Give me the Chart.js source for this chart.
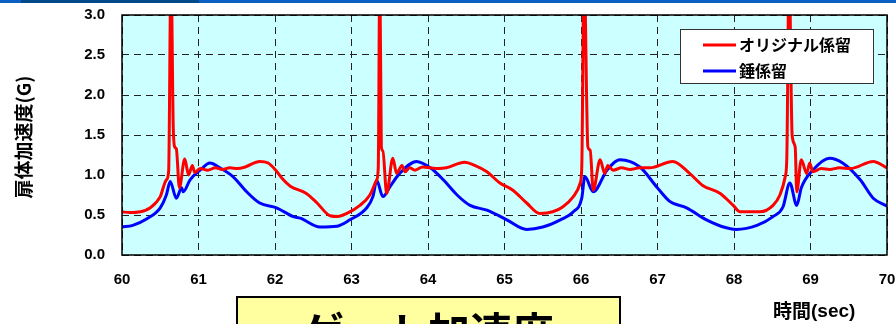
<!DOCTYPE html>
<html lang="ja">
<head>
<meta charset="UTF-8">
<title>扉体加速度</title>
<style>
  html, body { margin: 0; padding: 0; background: #fff; }
  #wrap { width: 896px; height: 324px; position: relative; }
</style>
</head>
<body>
<div id="wrap"><canvas id="myChart" width="896" height="324"></canvas></div>
<script src="https://cdn.jsdelivr.net/npm/chart.js@4/dist/chart.umd.min.js"></script>
<script>
// series names
var seriesNames = ['オリジナル係留', '錘係留'];

// オリジナル係留 (red) : time (sec) and acceleration (G)
var redT = [60.00, 60.10, 60.24, 60.37, 60.50, 60.58, 60.61, 60.64, 60.67, 60.69, 60.71, 60.75, 60.82, 60.87, 60.92, 60.95,
  61.02, 61.12, 61.22, 61.31, 61.41, 61.51, 61.61, 61.80, 61.91, 62.01, 62.10, 62.20, 62.41, 62.55, 62.72, 62.82, 62.94,
  63.11, 63.24, 63.33, 63.35, 63.37, 63.39, 63.41, 63.46, 63.54, 63.59, 63.66, 63.70, 63.76, 63.83, 63.93, 64.03, 64.14, 64.24,
  64.48, 64.61, 64.77, 64.94, 65.11, 65.29, 65.46, 65.63, 65.76, 65.90, 65.99, 66.01, 66.04, 66.09, 66.12, 66.16,
  66.25, 66.31, 66.35, 66.42, 66.53, 66.64, 66.77, 66.90, 67.20, 67.42, 67.59, 67.82, 67.99, 68.08, 68.34, 68.51, 68.60,
  68.67, 68.69, 68.72, 68.76, 68.80, 68.82, 68.88, 68.95, 68.99, 69.03, 69.14, 69.25, 69.38, 69.52, 69.82, 70.00];
var redV = [0.54, 0.53, 0.54, 0.59, 0.73, 0.94, 1.05, 3.60, 1.60, 1.35, 1.33, 0.84, 1.20, 1.00, 1.12, 1.03,
  1.08, 1.06, 1.09, 1.07, 1.09, 1.08, 1.10, 1.17, 1.15, 1.06, 0.95, 0.86, 0.77, 0.65, 0.49, 0.48, 0.52,
  0.62, 0.75, 0.94, 1.10, 3.60, 1.35, 1.30, 0.77, 1.21, 1.02, 1.12, 1.04, 1.09, 1.06, 1.10, 1.09, 1.08, 1.09,
  1.16, 1.12, 1.04, 0.90, 0.81, 0.65, 0.52, 0.54, 0.60, 0.73, 0.90, 1.10, 3.60, 1.35, 1.31, 0.81,
  1.19, 1.02, 1.12, 1.06, 1.09, 1.07, 1.09, 1.09, 1.17, 1.02, 0.87, 0.77, 0.62, 0.54, 0.54, 0.62, 0.75,
  0.98, 1.20, 3.60, 1.50, 1.35, 0.79, 1.19, 1.02, 1.15, 1.04, 1.08, 1.07, 1.09, 1.08, 1.17, 1.09];

// 錘係留 (blue)
var blueT = [60.00, 60.14, 60.32, 60.50, 60.58, 60.63, 60.71, 60.78, 60.80, 60.89, 61.02, 61.15, 61.28, 61.45, 61.63, 61.80,
  62.02, 62.24, 62.33, 62.59, 62.81, 62.98, 63.20, 63.28, 63.33, 63.41, 63.50, 63.63, 63.85, 64.03, 64.20, 64.38, 64.55,
  64.77, 65.03, 65.29, 65.50, 65.73, 65.90, 66.01, 66.05, 66.16, 66.34, 66.51, 66.77, 66.99, 67.16, 67.38, 67.64, 67.90,
  68.03, 68.30, 68.51, 68.64, 68.73, 68.82, 68.88, 69.03, 69.25, 69.42, 69.65, 69.82, 70.00];
var blueV = [0.35, 0.37, 0.45, 0.59, 0.75, 0.92, 0.71, 0.84, 0.79, 0.94, 1.06, 1.15, 1.09, 0.98, 0.79, 0.65,
  0.59, 0.48, 0.46, 0.35, 0.36, 0.44, 0.59, 0.73, 0.93, 0.73, 0.85, 1.02, 1.17, 1.09, 0.94, 0.75, 0.62,
  0.56, 0.44, 0.32, 0.35, 0.44, 0.54, 0.71, 0.98, 0.79, 1.06, 1.19, 1.10, 0.85, 0.67, 0.59, 0.44, 0.34,
  0.32, 0.37, 0.48, 0.60, 0.90, 0.62, 0.84, 1.06, 1.21, 1.15, 0.94, 0.71, 0.61];

function toPoints(ts, vs) {
  return ts.map(function (t, i) { return { x: t, y: vs[i] }; });
}

var boldFont = '"Liberation Sans", Arial, sans-serif';
var cjkFont = '"Noto Sans CJK JP", sans-serif';

// background of plot + border, legend box, titles, and decorations
var decor = {
  id: 'decor',
  beforeDraw: function (chart) {
    var ctx = chart.ctx, a = chart.chartArea;
    ctx.save();
    ctx.fillStyle = '#ccffff';
    ctx.fillRect(a.left, a.top, a.right - a.left, a.bottom - a.top);
    // top band
    ctx.fillStyle = '#0b60c4';
    ctx.fillRect(0, 0, 896, 3);
    ctx.fillStyle = '#004a8c';
    ctx.fillRect(21, 0, 178, 3);
    ctx.restore();
  },
  afterDraw: function (chart) {
    var ctx = chart.ctx, a = chart.chartArea;
    ctx.save();
    ctx.strokeStyle = '#000';
    ctx.lineWidth = 1.5;
    ctx.strokeRect(a.left, a.top, a.right - a.left, a.bottom - a.top);

    // legend
    ctx.fillStyle = '#fff';
    ctx.fillRect(680, 29, 193, 54);
    ctx.strokeStyle = '#333';
    ctx.lineWidth = 1;
    ctx.strokeRect(680.5, 29.5, 193, 54);
    var cols = ['#ff0000', '#0000ff'];
    var ys = [45, 71];
    ctx.font = 'bold 16px ' + cjkFont;
    ctx.textBaseline = 'middle';
    ctx.textAlign = 'left';
    for (var i = 0; i < 2; i++) {
      ctx.strokeStyle = cols[i];
      ctx.lineWidth = 3;
      ctx.beginPath();
      ctx.moveTo(703, ys[i]);
      ctx.lineTo(736, ys[i]);
      ctx.stroke();
      ctx.fillStyle = '#000';
      ctx.fillText(seriesNames[i], 739, ys[i]);
    }

    // y title
    ctx.save();
    ctx.translate(24, 137);
    ctx.rotate(-Math.PI / 2);
    ctx.textAlign = 'center';
    ctx.textBaseline = 'middle';
    ctx.font = 'bold 19px ' + cjkFont;
    ctx.fillStyle = '#000';
    ctx.fillText('扉体加速度(G)', 0, 0);
    ctx.restore();

    // x title
    ctx.textAlign = 'left';
    ctx.textBaseline = 'middle';
    ctx.font = 'bold 19px ' + cjkFont;
    ctx.fillStyle = '#000';
    ctx.fillText('時間', 773, 311);
    ctx.font = 'bold 19px ' + boldFont;
    ctx.fillText('(sec)', 811, 312);

    // yellow caption box (cut off at bottom)
    ctx.fillStyle = '#ffffa0';
    ctx.fillRect(237, 297, 383, 40);
    ctx.strokeStyle = '#000';
    ctx.lineWidth = 2;
    ctx.strokeRect(237, 297, 383, 40);
    ctx.fillStyle = '#000';
    ctx.textAlign = 'center';
    ctx.textBaseline = 'top';
    ctx.font = 'bold 42px ' + cjkFont;
    ctx.fillText('ゲート加速度', 428, 311);
    ctx.restore();
  }
};

var ctx = document.getElementById('myChart').getContext('2d');
var chart = new Chart(ctx, {
  type: 'line',
  data: {
    datasets: [
      { label: seriesNames[0], data: toPoints(redT, redV), borderColor: '#ff0000', borderWidth: 3,
        pointRadius: 0, cubicInterpolationMode: 'monotone', fill: false },
      { label: seriesNames[1], data: toPoints(blueT, blueV), borderColor: '#0000ff', borderWidth: 3,
        pointRadius: 0, cubicInterpolationMode: 'monotone', fill: false }
    ]
  },
  options: {
    responsive: false,
    animation: false,
    layout: { padding: { top: 15, right: 9, left: 0, bottom: 0 } },
    plugins: { legend: { display: false }, tooltip: { enabled: false } },
    scales: {
      x: {
        type: 'linear', min: 60, max: 70,
        afterFit: function (s) { s.height = 69; s.paddingLeft = 0; s.paddingRight = 0; },
        ticks: { stepSize: 1, padding: 16, color: '#000', font: { family: boldFont, size: 15, weight: 'bold' } },
        grid: { color: '#222', lineWidth: 1, drawTicks: false },
        border: { display: false, dash: [7, 5] }
      },
      y: {
        min: 0, max: 3,
        afterFit: function (s) { s.width = 122; s.paddingTop = 0; s.paddingBottom = 0; },
        ticks: { stepSize: 0.5, padding: 17, color: '#000', font: { family: boldFont, size: 15, weight: 'bold' },
          callback: function (v) { return v.toFixed(1); } },
        grid: { color: '#222', lineWidth: 1, drawTicks: false },
        border: { display: false, dash: [7, 5] }
      }
    }
  },
  plugins: [decor]
});
</script>
</body>
</html>
